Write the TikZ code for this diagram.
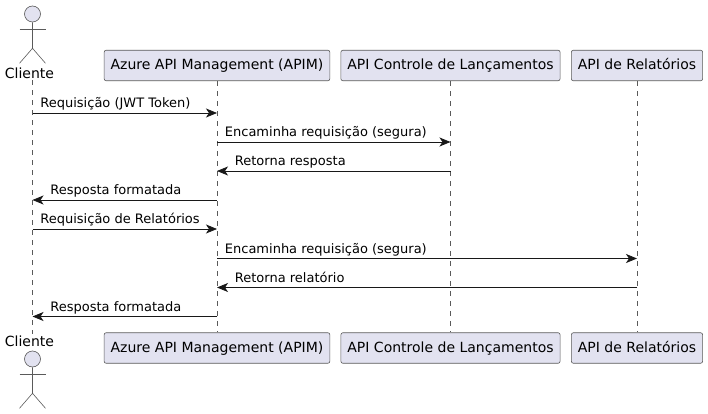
\documentclass[tikz,border=0pt]{standalone}
\usepackage{fontspec}
\setmainfont{DejaVu Sans}
\usetikzlibrary{arrows.meta}
\definecolor{boxfill}{HTML}{E2E2F0}
\definecolor{boxline}{HTML}{5A5A5A}
\definecolor{msgline}{HTML}{181818}
\tikzstyle{participant} = [rectangle, rounded corners=2pt, minimum height=30.5pt, inner xsep=6.5pt, inner ysep=0pt, text height=11.5pt, text depth=2.5pt, text centered, fill=boxfill, draw=boxline, line width=0.6pt, font=\fontsize{14}{16}\selectfont]
\tikzstyle{actorname} = [inner sep=0pt, minimum height=14pt, font=\fontsize{14}{16}\selectfont]
\tikzstyle{actorhead} = [circle, minimum size=16pt, inner sep=0pt, fill=boxfill, draw=boxline, line width=0.6pt]
\tikzstyle{actorline} = [draw=boxline, line width=0.6pt]
\tikzstyle{lifeline} = [draw=boxline, line width=0.6pt, dash pattern=on 5pt off 5pt]
\tikzstyle{arrow} = [line width=0.8pt, draw=msgline, -{Stealth[length=11pt, width=9pt, inset=3pt]}]
\tikzstyle{msgright} = [pos=0, anchor=base west, xshift=7.5pt, yshift=5.5pt, inner sep=0pt, font=\fontsize{13}{15}\selectfont]
\tikzstyle{msgleft} = [pos=1, anchor=base west, xshift=17.5pt, yshift=5.5pt, inner sep=0pt, font=\fontsize{13}{15}\selectfont]

\begin{document}
\begin{tikzpicture}[x=1pt, y=-1pt]
\useasboundingbox (0,0) rectangle (708,414);

% top row
\node (head1) [actorhead] at (32.5,14) {};
\node (cliente1) [actorname] at (29.5,73) {Cliente};
\node (apim1) [participant] at (217,65.5) {Azure API Management (APIM)};
\node (lanc1) [participant] at (450.5,65.5) {API Controle de Lançamentos};
\node (rel1) [participant] at (637,65.5) {API de Relatórios};

% bottom row
\node (cliente2) [actorname] at (29.5,341) {Cliente};
\node (head2) [actorhead] at (32.5,359) {};
\node (apim2) [participant] at (217,348) {Azure API Management (APIM)};
\node (lanc2) [participant] at (450.5,348) {API Controle de Lançamentos};
\node (rel2) [participant] at (637,348) {API de Relatórios};

% lifelines
\draw [lifeline] (cliente1.south -| head1) -- (cliente2.north -| head1);
\draw [lifeline] (apim1.south) -- (apim2.north);
\draw [lifeline] (lanc1.south) -- (lanc2.north);
\draw [lifeline] (rel1.south) -- (rel2.north);

% actor bodies
\draw [actorline] (head1.south) -- ++(0,26) ++(-13,15) -- ++(13,-15) -- ++(13,15);
\draw [actorline] ([yshift=-7pt]head1.south) ++(-13,0) -- ++(26,0);
\draw [actorline] (head2.south) -- ++(0,26) ++(-13,15) -- ++(13,-15) -- ++(13,15);
\draw [actorline] ([yshift=-7pt]head2.south) ++(-13,0) -- ++(26,0);

% message ends
\coordinate (c1) at (head1 |- 0,113);
\coordinate (a1) at (apim1 |- 0,113);
\coordinate (a2) at (apim1 |- 0,142);
\coordinate (l2) at (lanc1 |- 0,142);
\coordinate (l3) at (lanc1 |- 0,171);
\coordinate (a3) at (apim1 |- 0,171);
\coordinate (a4) at (apim1 |- 0,200);
\coordinate (c4) at (head1 |- 0,200);
\coordinate (c5) at (head1 |- 0,229);
\coordinate (a5) at (apim1 |- 0,229);
\coordinate (a6) at (apim1 |- 0,258.5);
\coordinate (r6) at (rel1 |- 0,258.5);
\coordinate (r7) at (rel1 |- 0,287.5);
\coordinate (a7) at (apim1 |- 0,287.5);
\coordinate (a8) at (apim1 |- 0,316.5);
\coordinate (c8) at (head1 |- 0,316.5);

\draw [arrow] (c1) -- node[msgright] {Requisição (JWT Token)} (a1);
\draw [arrow] (a2) -- node[msgright] {Encaminha requisição (segura)} (l2);
\draw [arrow] (l3) -- node[msgleft] {Retorna resposta} (a3);
\draw [arrow] (a4) -- node[msgleft] {Resposta formatada} (c4);
\draw [arrow] (c5) -- node[msgright] {Requisição de Relatórios} (a5);
\draw [arrow] (a6) -- node[msgright] {Encaminha requisição (segura)} (r6);
\draw [arrow] (r7) -- node[msgleft] {Retorna relatório} (a7);
\draw [arrow] (a8) -- node[msgleft] {Resposta formatada} (c8);

\end{tikzpicture}
\end{document}
